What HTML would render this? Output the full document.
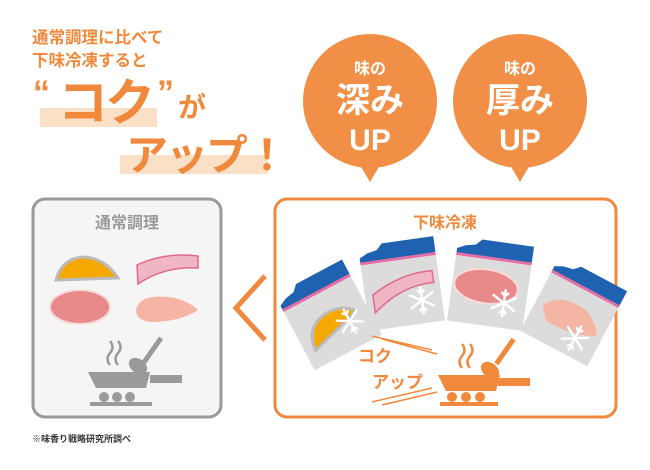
<!DOCTYPE html>
<html><head><meta charset="utf-8"><style>
body{margin:0;background:#fff}
svg text{font-family:"Liberation Sans","Noto Sans CJK JP",sans-serif;font-weight:bold}
</style></head><body>
<svg width="650" height="465" viewBox="0 0 650 465" xmlns="http://www.w3.org/2000/svg">
<defs>
<g id="bag">
<path d="M-38,-28 L-38,-34 L-30,-38 L-20,-40 L-14,-46 L38,-46 L38,-30 Z" fill="#1f63b0"/>
<rect x="-38" y="-30" width="76" height="3" fill="#e66ea6"/>
<rect x="-38" y="-27" width="76" height="66" fill="#dcdcdc"/>
</g>
<g id="flake" stroke="#fff" stroke-width="2.4" fill="none" stroke-linecap="round">
<path d="M0,-13V13M-11.3,-6.5L11.3,6.5M-11.3,6.5L11.3,-6.5M-3,-10L0,-7L3,-10M-3,10L0,7L3,10"/>
</g>
</defs>
<!-- headline -->
<rect x="40" y="108" width="117" height="19" fill="#fbe0c8"/>
<rect x="120" y="155" width="148" height="19" fill="#fbe0c8"/>
<text x="32" y="43" font-size="16.5" fill="#f0893c">通常調理に比べて</text>
<text x="32" y="66" font-size="16.5" fill="#f0893c">下味冷凍すると</text>
<text x="33" y="104" font-size="34" fill="#f0893c">“</text>
<text x="58" y="120" font-size="50" fill="#f0893c" letter-spacing="-3">コク</text>
<text x="157" y="104" font-size="34" fill="#f0893c">”</text>
<text x="178" y="117" font-size="28" fill="#f0893c">が</text>
<text x="126" y="170" font-size="42" fill="#f0893c" letter-spacing="-2">アップ！</text>
<!-- bubbles -->
<circle cx="370" cy="101" r="67" fill="#f08f45"/>
<path d="M360,165 L370,182 L380,165Z" fill="#f08f45"/>
<circle cx="520" cy="101" r="67" fill="#f08f45"/>
<path d="M510,165 L520,182 L530,165Z" fill="#f08f45"/>
<g fill="#fff" text-anchor="middle">
<text x="370" y="74" font-size="16">味の</text>
<text x="370" y="112" font-size="34">深み</text>
<text x="370" y="150" font-size="30">UP</text>
<text x="520" y="74" font-size="16">味の</text>
<text x="520" y="112" font-size="34">厚み</text>
<text x="520" y="150" font-size="30">UP</text>
</g>
<!-- left box -->
<rect x="33" y="199" width="188" height="218" rx="12" fill="#f5f5f5" stroke="#9a9a9a" stroke-width="3"/>
<text x="127" y="228" font-size="16" fill="#9a9a9a" text-anchor="middle">通常調理</text>
<path d="M56,280 Q62,258 84,257 Q105,258 118,278 Z" fill="#f4a800" stroke="#bbb" stroke-width="3"/>
<path d="M137,265 Q165,252 198,256 L198,268 Q165,266 138,284Z" fill="#f0b6c6" stroke="#e06a8a" stroke-width="1.5"/>
<ellipse cx="80" cy="307" rx="30" ry="17" fill="#e98a8a" stroke="#fbdada" stroke-width="2"/>
<path d="M136,310 Q140,292 175,298 Q190,302 198,310 Q180,322 150,322 Q136,320 136,310Z" fill="#f5b5a5"/>
<g fill="#9a9a9a">
<path d="M88,372 L150,372 L146,388 L96,388Z"/><rect x="150" y="375" width="32" height="8"/>
<rect x="90" y="402" width="62" height="4"/>
<circle cx="104" cy="397" r="5"/><circle cx="117" cy="397" r="5"/><circle cx="130" cy="397" r="5"/>
<rect x="150" y="335" width="5" height="30" transform="rotate(35 152 350)"/>
<ellipse cx="138" cy="366" rx="10" ry="7" transform="rotate(35 138 366)"/>
</g>
<path d="M110,365 q-5,-6 0,-12 q5,-6 0,-12 M118,365 q-5,-6 0,-12 q5,-6 0,-12" stroke="#9a9a9a" stroke-width="2.5" fill="none"/>
<text x="32" y="442" font-size="9" fill="#333" font-weight="normal">※味香り戦略研究所調べ</text>
<!-- chevron -->
<path d="M265,276 L236,308 L265,340" stroke="#f0893c" stroke-width="5" fill="none"/>
<!-- right box -->
<rect x="275" y="199" width="341" height="218" rx="12" fill="#fff" stroke="#f0893c" stroke-width="3"/>
<text x="445" y="228" font-size="16" fill="#f0893c" text-anchor="middle">下味冷凍</text>
<g transform="translate(330,318) rotate(-28)"><use href="#bag"/>
<path d="M-28,22 Q-26,-4 0,-6 Q18,-6 26,6 Z" fill="#f4a800" stroke="#bbb" stroke-width="3"/><use href="#flake" x="16" y="12"/></g>
<g transform="translate(402,287) rotate(-8)"><use href="#bag"/>
<path d="M-30,4 Q0,-14 32,-12 L32,0 Q0,-2 -30,22Z" fill="#f0b6c6" stroke="#e06a8a" stroke-width="1.5"/><use href="#flake" x="18" y="16"/></g>
<g transform="translate(490,287) rotate(8)"><use href="#bag"/>
<ellipse cx="-4" cy="0" rx="32" ry="17" fill="#e98a8a" stroke="#fbdada" stroke-width="2"/><use href="#flake" x="16" y="14"/></g>
<g transform="translate(572,314) rotate(28)"><use href="#bag"/>
<path d="M-30,6 Q-20,-14 10,-10 Q26,-4 32,8 Q10,20 -20,18Z" fill="#f5b5a5"/><use href="#flake" x="14" y="20"/></g>
<text x="358" y="362" font-size="17" fill="#f0893c">コク</text>
<text x="372" y="388" font-size="17" fill="#f0893c">アップ</text>
<path d="M372,336 L432,350 M382,339 L437,354 M372,402 L432,388 M382,405 L437,392" stroke="#f0893c" stroke-width="1.5"/>
<g fill="#f0893c">
<path d="M438,375 L500,375 L496,391 L446,391Z"/><rect x="498" y="378" width="32" height="8"/>
<rect x="440" y="402" width="58" height="4"/>
<circle cx="452" cy="397" r="5"/><circle cx="466" cy="397" r="5"/><circle cx="480" cy="397" r="5"/>
<rect x="502" y="336" width="5" height="30" transform="rotate(35 504 352)"/>
<ellipse cx="490" cy="370" rx="10" ry="7" transform="rotate(35 490 370)"/>
</g>
<path d="M462,368 q-5,-6 0,-12 q5,-6 0,-12 M470,368 q-5,-6 0,-12 q5,-6 0,-12" stroke="#f0893c" stroke-width="2.5" fill="none"/>
</svg>
</body></html>
